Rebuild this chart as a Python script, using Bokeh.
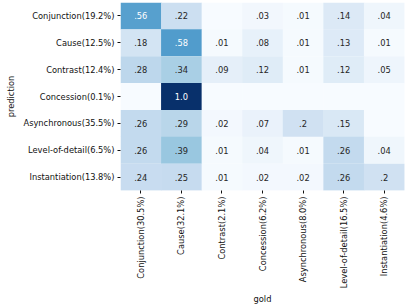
import math
from bokeh.plotting import figure
from bokeh.models import ColumnDataSource, LinearColorMapper
from bokeh.palettes import Blues256
from bokeh.embed import file_html
from bokeh.resources import INLINE
from bokeh.core.properties import value
from bokeh.transform import transform

gold_labels = ["Conjunction(30.5%)", "Cause(32.1%)", "Contrast(2.1%)", "Concession(6.2%)",
               "Asynchronous(8.0%)", "Level-of-detail(16.5%)", "Instantiation(4.6%)"]
pred_labels = ["Conjunction(19.2%)", "Cause(12.5%)", "Contrast(12.4%)", "Concession(0.1%)",
               "Asynchronous(35.5%)", "Level-of-detail(6.5%)", "Instantiation(13.8%)"]

row_conjunction = [0.56, 0.22, 0.0, 0.03, 0.01, 0.14, 0.04]
row_cause = [0.18, 0.58, 0.01, 0.08, 0.01, 0.13, 0.01]
row_contrast = [0.28, 0.34, 0.09, 0.12, 0.01, 0.12, 0.05]
row_concession = [0.0, 1.0, 0.0, 0.0, 0.0, 0.0, 0.0]
row_asynchronous = [0.26, 0.29, 0.02, 0.07, 0.2, 0.15, 0.0]
row_level = [0.26, 0.39, 0.01, 0.04, 0.01, 0.26, 0.04]
row_instantiation = [0.24, 0.25, 0.01, 0.02, 0.02, 0.26, 0.2]

rows = [row_conjunction, row_cause, row_contrast, row_concession,
        row_asynchronous, row_level, row_instantiation]


def fmt(v):
    if v == 0:
        return ""
    if v >= 1:
        return "1.0"
    return ("%.2f" % v).rstrip("0").lstrip("0")


xs, ys, vals, texts, tcols = [], [], [], [], []
for pl, row in zip(pred_labels, rows):
    for gl, v in zip(gold_labels, row):
        xs.append(gl)
        ys.append(pl)
        vals.append(v)
        texts.append(fmt(v))
        tcols.append("white" if v >= 0.5 else "#262626")

src = ColumnDataSource(dict(x=xs, y=ys, v=vals, t=texts, tc=tcols))
mapper = LinearColorMapper(palette=list(Blues256)[::-1], low=0, high=1)

p = figure(width=411, height=308, x_range=gold_labels, y_range=list(reversed(pred_labels)),
           output_backend="svg", toolbar_location=None,
           min_border_left=120, min_border_right=7, min_border_top=2, min_border_bottom=118)

p.rect(x="x", y="y", width=1, height=1, source=src, dilate=True,
       fill_color=transform("v", mapper), line_color=None)
p.text(x="x", y="y", text="t", source=src, text_color="tc",
       text_align="center", text_baseline="middle",
       text_font=value("DejaVu Sans"), text_font_size="8.3px")

p.outline_line_color = None
p.grid.grid_line_color = None
for ax in (p.xaxis[0], p.yaxis[0]):
    ax.axis_line_color = None
    ax.major_tick_line_color = "#111111"
    ax.major_tick_in = 0
    ax.major_tick_out = 3
    ax.major_label_text_font = "DejaVu Sans"
    ax.major_label_text_font_size = "8.3px"
    ax.major_label_text_color = "#111111"
    ax.major_label_standoff = 3
    ax.axis_label_text_font = "DejaVu Sans"
    ax.axis_label_text_font_size = "8.3px"
    ax.axis_label_text_font_style = "normal"
    ax.axis_label_text_color = "#111111"

p.yaxis.axis_label_standoff = 4
p.xaxis.axis_label_standoff = 3
p.xaxis.axis_label = "gold"
p.yaxis.axis_label = "prediction"
p.xaxis.major_label_orientation = math.pi / 2

open("out.html", "w").write(file_html(p, INLINE))
